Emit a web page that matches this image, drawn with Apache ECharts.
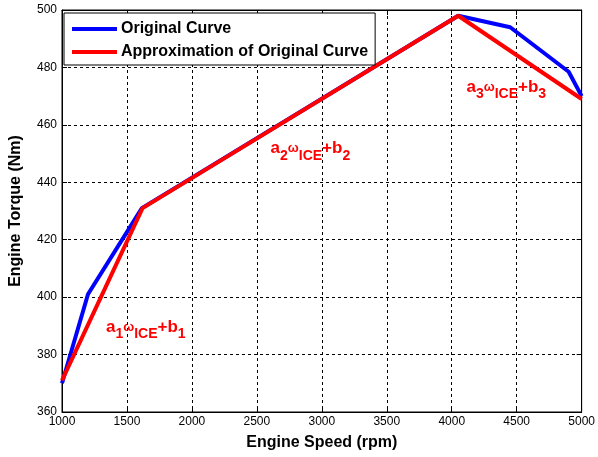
<!DOCTYPE html>
<html><head><meta charset="utf-8">
<script src="https://cdn.jsdelivr.net/npm/echarts@6/dist/echarts.min.js"></script>
<style>html,body{margin:0;padding:0;background:#fff}#c{width:598px;height:457px}</style>
</head><body><div id="c"></div>
<script>
const seriesNames = ['Original Curve', 'Approximation of Original Curve'];
const originalCurve = [[1000, 370], [1200, 401], [1615, 431], [4050, 498], [4450, 494], [4900, 478.5], [5000, 470]];
const approxCurve = [[1000, 371], [1620, 431], [4050, 498], [5000, 469]];
const xTicks = [1000, 1500, 2000, 2500, 3000, 3500, 4000, 4500, 5000];
const yTicks = [360, 380, 400, 420, 440, 460, 480, 500];
const annotations = [
  { idx: 1, pos: [1645, 389.6] },
  { idx: 2, pos: [2912, 451.8] },
  { idx: 3, pos: [4420, 473.2] }
];
const font = 'Liberation Sans, Arial, sans-serif';
const chart = echarts.init(document.getElementById('c'));
const rich = {
  a: { fontSize: 17, fontWeight: 'bold', color: '#ff0000', fontFamily: font },
  s: { fontSize: 14, fontWeight: 'bold', color: '#ff0000', fontFamily: font, padding: [15, 0, 0, 0] },
  w: { fontSize: 13, fontWeight: 'bold', color: '#ff0000', fontFamily: font }
};
const axisCommon = {
  type: 'value', min: 1000, max: 5000, interval: 500
};
chart.setOption({
  animation: false,
  backgroundColor: '#fff',
  grid: { left: 62, right: 15, top: 10, bottom: 45, show: true, borderColor: '#000', borderWidth: 1 },
  legend: {
    orient: 'vertical', left: 64, top: 13, itemGap: 7,
    backgroundColor: '#fff', borderColor: '#000', borderWidth: 1,
    padding: [8, 7, 5, 8],
    itemWidth: 45, itemHeight: 4, icon: 'rect',
    textStyle: { fontFamily: font, fontSize: 16, fontWeight: 'bold', color: '#000', padding: [0, 0, 0, -1] },
    data: seriesNames
  },
  xAxis: [{
    ...axisCommon, position: 'bottom',
    name: 'Engine Speed (rpm)', nameLocation: 'middle', nameGap: 23,
    nameTextStyle: { fontFamily: font, fontSize: 16, fontWeight: 'bold', color: '#000' },
    axisLine: { show: true, lineStyle: { color: '#000', width: 1 } },
    axisTick: { show: true, inside: true, length: 5, lineStyle: { color: '#000' } },
    axisLabel: { fontFamily: font, fontSize: 12, color: '#000', margin: 4, showMinLabel: true, showMaxLabel: true,
      formatter: v => xTicks.includes(v) ? String(v) : '' },
    splitLine: { show: true, lineStyle: { color: '#000', type: [3, 3], width: 1 } }
  }, {
    ...axisCommon, position: 'top',
    axisLine: { show: true, lineStyle: { color: '#000' } },
    axisTick: { show: true, inside: true, length: 5, lineStyle: { color: '#000' } },
    axisLabel: { show: false }, splitLine: { show: false }
  }],
  yAxis: [{
    type: 'value', min: 360, max: 500, interval: 20, position: 'left',
    name: 'Engine Torque (Nm)', nameLocation: 'middle', nameGap: 38,
    nameTextStyle: { fontFamily: font, fontSize: 16, fontWeight: 'bold', color: '#000' },
    axisLine: { show: true, lineStyle: { color: '#000' } },
    axisTick: { show: true, inside: true, length: 5, lineStyle: { color: '#000' } },
    axisLabel: { fontFamily: font, fontSize: 12, color: '#000', margin: 5,
      formatter: v => yTicks.includes(v) ? String(v) : '' },
    splitLine: { show: true, lineStyle: { color: '#000', type: [3, 3], width: 1 } }
  }, {
    type: 'value', min: 360, max: 500, interval: 20, position: 'right',
    axisLine: { show: true, lineStyle: { color: '#000' } },
    axisTick: { show: true, inside: true, length: 5, lineStyle: { color: '#000' } },
    axisLabel: { show: false }, splitLine: { show: false }
  }],
  series: [{
    name: seriesNames[0], type: 'line', data: originalCurve, symbol: 'none',
    lineStyle: { color: '#0000ff', width: 4 }, itemStyle: { color: '#0000ff' }, z: 2
  }, {
    name: seriesNames[1], type: 'line', data: approxCurve, symbol: 'none',
    lineStyle: { color: '#ff0000', width: 4 }, itemStyle: { color: '#ff0000' }, z: 3,
    markPoint: {
      symbol: 'circle', symbolSize: 0, silent: true,
      label: { show: true, position: 'inside', rich: rich },
      data: annotations.map(a => ({
        coord: a.pos,
        label: { formatter: `{a|a}{s|${a.idx}}{w|ω}{s|ICE}{a|+b}{s|${a.idx}}` }
      }))
    }
  }]
});
</script></body></html>
